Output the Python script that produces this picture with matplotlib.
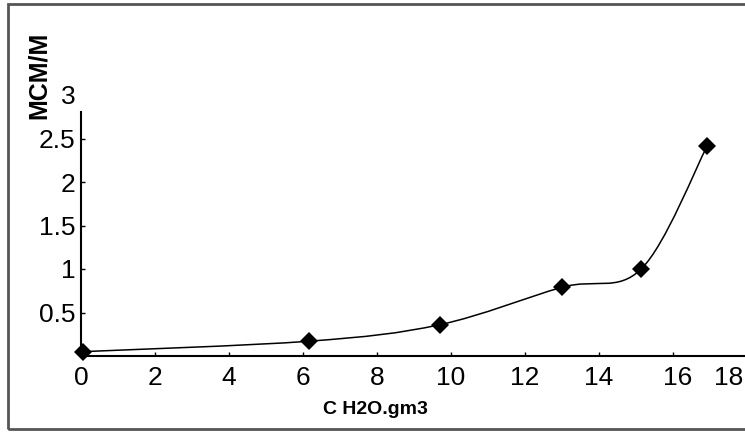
import matplotlib
matplotlib.use("Agg")
import matplotlib.pyplot as plt
from matplotlib.path import Path
from matplotlib.patches import PathPatch, Rectangle
from matplotlib.transforms import ScaledTranslation
import numpy as np

# Data
ch2o = [0.05, 6.16, 9.7, 13.0, 15.14, 16.92]
mcm = [0.05, 0.17, 0.36, 0.79, 1.0, 2.41]
xticks = [0, 2, 4, 6, 8, 10, 12, 14, 16, 18]
yticks = [0.5, 1, 1.5, 2, 2.5, 3]
ytick_labels = ["0.5", "1", "1.5", "2", "2.5", "3"]

plt.rcParams['font.family'] = ['Liberation Sans', 'DejaVu Sans']

W, H = 745, 432
fig = plt.figure(figsize=(W / 100, H / 100), dpi=100)

# outer frame
fig.patches.append(Rectangle((8 / W, (H - 429) / H), (W + 20) / W, (429 - 4) / H,
                             transform=fig.transFigure, fill=False,
                             edgecolor='#555555', linewidth=2.0))

ax = fig.add_axes([81 / W, (H - 356) / H, (747 - 81) / W, (356 - 95) / H])
ax.set_xlim(0, 18)
ax.set_ylim(0, 3)
for s in ['top', 'right']:
    ax.spines[s].set_visible(False)
ax.spines['left'].set_bounds(0, 2.8)
for s in ['left', 'bottom']:
    ax.spines[s].set_linewidth(1.5)
    ax.spines[s].set_color('black')
ax.spines['bottom'].set_clip_on(False)

ax.set_xticks(xticks)
ax.set_xticklabels([str(t) for t in xticks])
ax.set_yticks(yticks)
ax.set_yticklabels(ytick_labels)
ax.tick_params(axis='both', direction='in', length=3, width=1, labelsize=19,
               colors='black')
ax.tick_params(axis='x', pad=7)
ax.tick_params(axis='y', pad=4)
ax.yaxis.get_major_ticks()[-1].tick1line.set_visible(False)
xlabels = ax.get_xticklabels()
# shift the last two labels as in the reference so they stay inside
xlabels[-2].set_transform(xlabels[-2].get_transform() +
                          ScaledTranslation(5 / 100, 0, fig.dpi_scale_trans))
xlabels[-1].set_horizontalalignment('right')
xlabels[-1].set_transform(xlabels[-1].get_transform() +
                          ScaledTranslation(-4 / 100, 0, fig.dpi_scale_trans))

# smooth curve through points (cubic Bezier, Catmull-Rom style tangents)
x = np.array(ch2o)
y = np.array(mcm)
n = len(x)
verts = [(x[0], y[0])]
codes = [Path.MOVETO]
for i in range(n - 1):
    p0 = np.array([x[max(i - 1, 0)], y[max(i - 1, 0)]])
    p1 = np.array([x[i], y[i]])
    p2 = np.array([x[i + 1], y[i + 1]])
    p3 = np.array([x[min(i + 2, n - 1)], y[min(i + 2, n - 1)]])
    c1 = p1 + (p2 - p0) / 6.0
    c2 = p2 - (p3 - p1) / 6.0
    verts += [tuple(c1), tuple(c2), tuple(p2)]
    codes += [Path.CURVE4, Path.CURVE4, Path.CURVE4]
ax.add_patch(PathPatch(Path(verts, codes), fill=False, edgecolor='black',
                       linewidth=1.1, transform=ax.transData))
ax.plot(ch2o, mcm, linestyle='none', marker='D', markersize=9.5,
        color='black', markeredgewidth=0, clip_on=False, zorder=5)

fig.text(39 / W, (H - 75) / H, "MCM/M", rotation=90, fontsize=18,
         fontweight='bold', ha='center', va='center')
fig.text(375 / W, (H - 410) / H, "C H2O.gm3", fontsize=14,
         fontweight='bold', ha='center', va='center')

fig.savefig("out.png", dpi=100)
